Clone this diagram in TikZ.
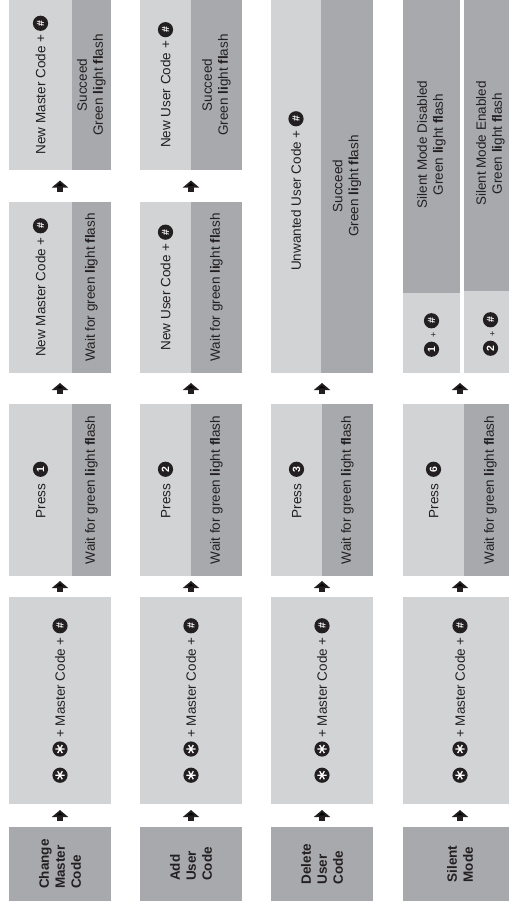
\documentclass[tikz,border=0pt]{standalone}
\usepackage{fontspec}
\setmainfont{Liberation Sans}
\usetikzlibrary{arrows.meta}
\definecolor{lg}{HTML}{D1D3D4}
\definecolor{dg}{HTML}{A7A9AC}
\definecolor{ink}{HTML}{231F20}
\newcommand\kstar{\tikz[baseline=-4.8pt,x=1pt,y=1pt]{\fill[ink] (0,0) circle (7.6);
  \draw[white,line width=1.3pt] (90:4.6)--(270:4.6) (30:4.6)--(210:4.6) (150:4.6)--(330:4.6);}}
\newcommand\khash{\tikz[baseline=-4.8pt,x=1pt,y=1pt]{\fill[ink] (0,0) circle (7.6);
  \node[text=white,inner sep=0pt,font=\fontsize{10.5}{10.5}\selectfont\bfseries] at (0,0) {\#};}}
\newcommand\knum[1]{\tikz[baseline=-4.8pt,x=1pt,y=1pt]{\fill[ink] (0,0) circle (7.6);
  \node[text=white,inner sep=0pt,font=\fontsize{10.5}{10.5}\selectfont\bfseries] at (0,0) {#1};}}
\newcommand\lgtfl{{\bfseries li}ght {\bfseries fl}ash}
\newcommand\smplus{\hspace{4pt}{\fontsize{9}{9}\selectfont+}\hspace{4pt}}
\newcommand\boxat[6]{\pgfmathsetmacro\myw{#5-#3}\pgfmathsetmacro\myh{#6-#4}%
  \node[#1,minimum width=\myw pt,minimum height=\myh pt] (#2) at (#3,#4) {};}
\begin{document}
\begin{tikzpicture}[x=1pt,y=-1pt,
  lbox/.style={fill=lg,draw=none,inner sep=0pt,outer sep=0pt,anchor=north west},
  dbox/.style={fill=dg,draw=none,inner sep=0pt,outer sep=0pt,anchor=north west},
  txt/.style={rotate=90,text=ink,inner sep=0pt,align=center,font=\fontsize{13.5}{16}\selectfont},
  ttl/.style={txt,align=left,font=\fontsize{13.5}{16}\selectfont\bfseries},
  flow/.style={draw=ink,line width=5.5pt,-{Triangle[width=16pt,length=7pt]},shorten <=#1,shorten >=#1}]
\path[use as bounding box] (0,0) rectangle (509,903);
\clip (0,0) rectangle (509,903);
% ---------- column 1
\boxat{dbox}{t1}{9}{827}{111}{901}
\boxat{lbox}{b1}{9}{597}{111}{804}
\boxat{lbox}{p1}{9}{404}{111}{576}
\boxat{dbox}{p1d}{72}{404}{111}{576}
\boxat{lbox}{n1}{9}{202}{111}{373}
\boxat{dbox}{n1d}{72}{202}{111}{373}
\boxat{lbox}{s1}{9}{-4}{111}{170}
\boxat{dbox}{s1d}{72}{-4}{111}{170}
% ---------- column 2
\boxat{dbox}{t2}{140}{827}{242}{901}
\boxat{lbox}{b2}{140}{597}{242}{804}
\boxat{lbox}{p2}{140}{404}{242}{576}
\boxat{dbox}{p2d}{191}{404}{242}{576}
\boxat{lbox}{n2}{140}{202}{242}{373}
\boxat{dbox}{n2d}{191}{202}{242}{373}
\boxat{lbox}{s2}{140}{-4}{242}{170}
\boxat{dbox}{s2d}{191}{-4}{242}{170}
% ---------- column 3
\boxat{dbox}{t3}{271}{827}{373}{901}
\boxat{lbox}{b3}{271}{597}{373}{804}
\boxat{lbox}{p3}{271}{404}{373}{576}
\boxat{dbox}{p3d}{322}{404}{373}{576}
\boxat{lbox}{u3}{271}{-4}{373}{373}
\boxat{dbox}{u3d}{321}{-4}{373}{373}
% ---------- column 4
\boxat{dbox}{t4}{403}{827}{517}{901}
\boxat{lbox}{b4}{403}{597}{517}{804}
\boxat{lbox}{p4}{403}{404}{517}{576}
\boxat{dbox}{p4d}{464}{404}{517}{576}
\boxat{lbox}{k4a}{403}{-4}{460}{373}
\boxat{dbox}{k4ad}{403}{-4}{460}{293}
\boxat{lbox}{k4b}{464}{-4}{517}{373}
\boxat{dbox}{k4bd}{464}{-4}{517}{291}
\coordinate (k4) at (460,373);
% ---------- titles
\node[ttl] (t1x) at (t1) {Change\\Master\\Code};
\node[ttl] (t2x) at (t2) {Add\\User\\Code};
\node[ttl] (t3x) at (t3) {Delete\\User\\Code};
\node[ttl] (t4x) at (t4) {Silent\\Mode};
% ---------- star + master code
\node[txt] (b1x) at (b1) {\kstar\hspace{11pt}\kstar\ + Master Code + \khash};
\node[txt] (b2x) at (b2) {\kstar\hspace{11pt}\kstar\ + Master Code + \khash};
\node[txt] (b3x) at (b3) {\kstar\hspace{11pt}\kstar\ + Master Code + \khash};
\node[txt] (b4x) at (b4) {\kstar\hspace{11pt}\kstar\ + Master Code + \khash};
% ---------- press
\node[txt] (p1x) at (40.5,490) {Press\hspace{7pt}\knum{1}};
\node[txt] (p1y) at (p1d) {Wait for green \lgtfl};
\node[txt] (p2x) at (165.5,490) {Press\hspace{7pt}\knum{2}};
\node[txt] (p2y) at (p2d) {Wait for green \lgtfl};
\node[txt] (p3x) at (296.5,490) {Press\hspace{7pt}\knum{3}};
\node[txt] (p3y) at (p3d) {Wait for green \lgtfl};
\node[txt] (p4x) at (433.5,490) {Press\hspace{7pt}\knum{6}};
\node[txt] (p4y) at (p4d) {Wait for green \lgtfl};
% ---------- new code
\node[txt] (n1x) at (40.5,287.5) {New Master Code + \khash};
\node[txt] (n1y) at (n1d) {Wait for green \lgtfl};
\node[txt] (n2x) at (165.5,287.5) {New User Code + \khash};
\node[txt] (n2y) at (n2d) {Wait for green \lgtfl};
\node[txt] (s1x) at (40.5,85) {New Master Code + \khash};
\node[txt] (s1y) at (91.5,85) {Succeed\\Green \lgtfl};
\node[txt] (s2x) at (165.5,85) {New User Code + \khash};
\node[txt] (s2y) at (216.5,85) {Succeed\\Green \lgtfl};
\node[txt] (u3x) at (296,191) {Unwanted User Code + \khash};
\node[txt] (u3y) at (347,186) {Succeed\\Green \lgtfl};
% ---------- silent mode
\node[txt] (k4ax) at (431.5,335) {\knum{1}\smplus\khash};
\node[txt] (k4bx) at (490.5,334) {\knum{2}\smplus\khash};
\node[txt] (k4ay) at (k4ad) {Silent Mode Disabled\\Green \lgtfl};
\node[txt] (k4by) at (k4bd) {Silent Mode Enabled\\Green \lgtfl};
% ---------- arrows
\draw[flow=6pt] (t1.north) -- (b1.south);
\draw[flow=6pt] (t2.north) -- (b2.south);
\draw[flow=6pt] (t3.north) -- (b3.south);
\draw[flow=6pt] (t4.north) -- (b4.south);
\draw[flow=5pt] (b1.north) -- (p1.south);
\draw[flow=5pt] (b2.north) -- (p2.south);
\draw[flow=5pt] (b3.north) -- (p3.south);
\draw[flow=5pt] (b4.north) -- (p4.south);
\draw[flow=10pt] (p1.north) -- (n1.south);
\draw[flow=10pt] (p2.north) -- (n2.south);
\draw[flow=10pt] (p3.north) -- (u3.south);
\draw[flow=10pt] (p4.north) -- (k4);
\draw[flow=10.5pt] (n1.north) -- (s1.south);
\draw[flow=10.5pt] (n2.north) -- (s2.south);
\end{tikzpicture}
\end{document}
